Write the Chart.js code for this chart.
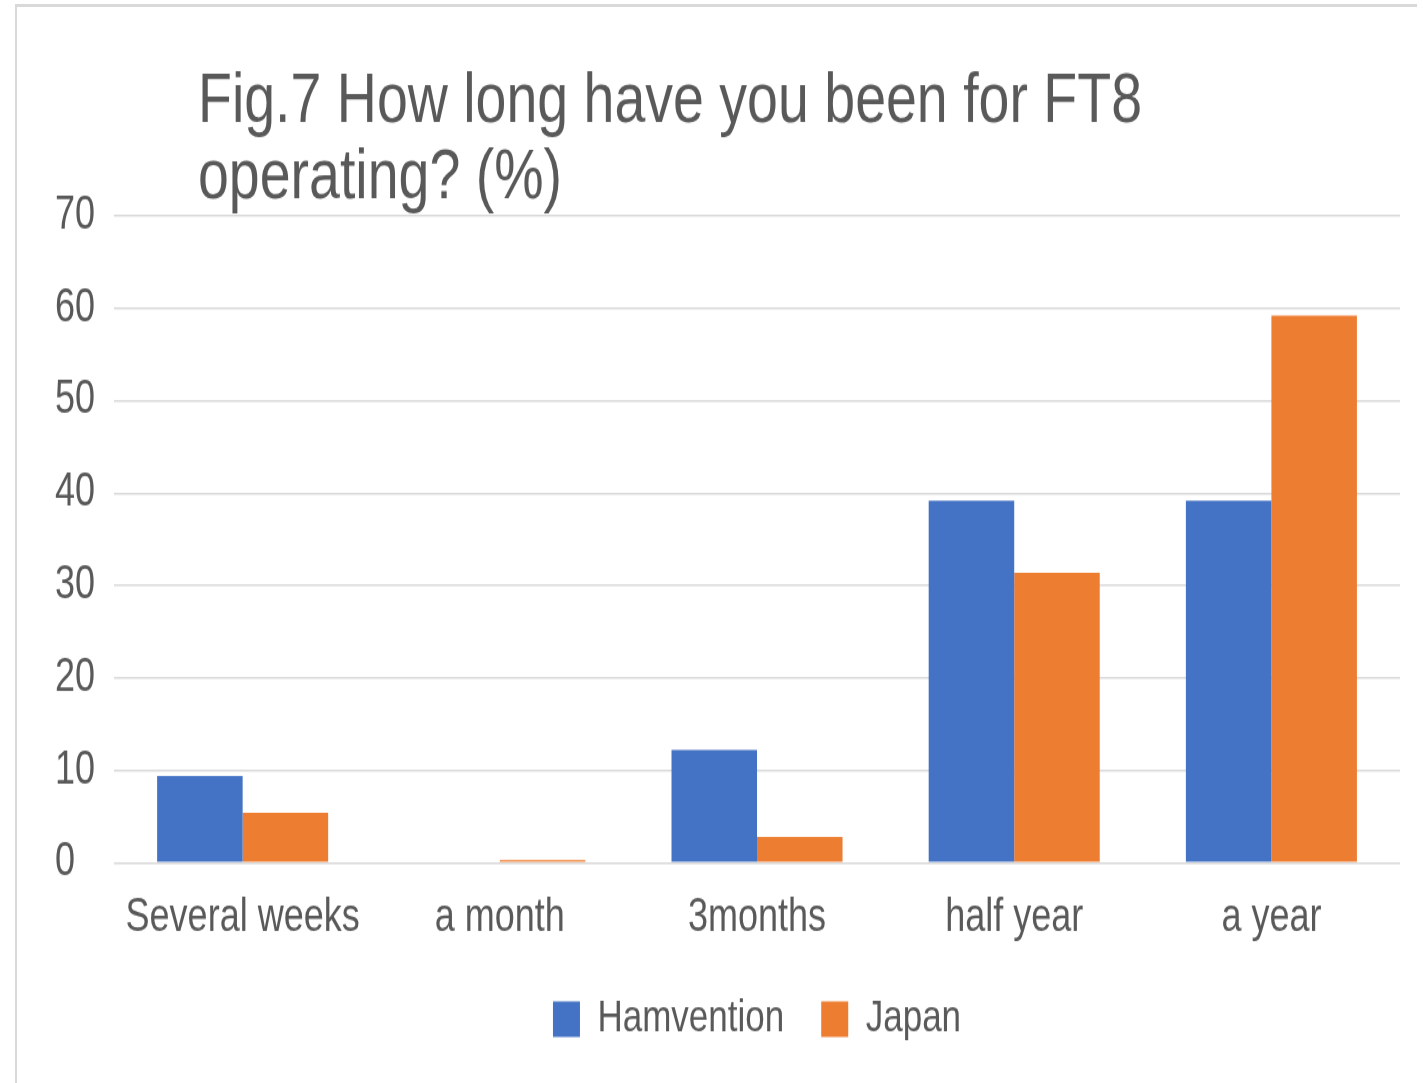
<!DOCTYPE html>
<html>
<head>
<meta charset="utf-8">
<script src="https://cdn.jsdelivr.net/npm/chart.js@4.4.1/dist/chart.umd.min.js"></script>
<style>
  html, body { margin: 0; padding: 0; background: #fff; overflow: hidden; }
  #frame { position: absolute; left: 15px; top: 4px; width: 1400px; height: 1100px;
           border-left: 2px solid #d9d9d9; border-top: 3px solid #d9d9d9; }
  #wrap { position: absolute; left: 0; top: 0; width: 1423px; height: 853px;
          transform: scaleY(1.27); transform-origin: 0 0; }
</style>
</head>
<body>
<div id="frame"></div>
<div id="wrap"><canvas id="chart" width="1423" height="853"></canvas></div>
<script>
// data
const categories = ['Several weeks', 'a month', '3months', 'half year', 'a year'];
const hamvention = [9.4, 0, 12.2, 39.2, 39.2];
const japan = [5.4, 0.3, 2.8, 31.4, 59.2];
const titleLines = ['Fig.7 How long have you been for FT8', 'operating? (%)'];

const grey = '#595959';
const fontFamily = '"Liberation Sans", Arial, sans-serif';

// title sits left of centre, so draw it by hand
const leftTitle = {
  id: 'leftTitle',
  afterDraw(chart) {
    const ctx = chart.ctx;
    ctx.save();
    ctx.font = '55.5px ' + fontFamily;
    ctx.fillStyle = grey;
    ctx.textBaseline = 'alphabetic';
    titleLines.forEach((t, i) => ctx.fillText(t, 198, 96 + i * 60));
    ctx.restore();
  }
};

const ctx = document.getElementById('chart').getContext('2d');
new Chart(ctx, {
  type: 'bar',
  data: {
    labels: categories,
    datasets: [
      { label: 'Hamvention', data: hamvention, backgroundColor: '#4472C4' },
      { label: 'Japan', data: japan, backgroundColor: '#ED7D31' }
    ]
  },
  options: {
    responsive: false,
    animation: false,
    devicePixelRatio: 1,
    layout: { padding: { left: 55, right: 23, top: 170, bottom: 23 } },
    datasets: {
      bar: { categoryPercentage: 0.665, barPercentage: 1, borderWidth: 0 }
    },
    scales: {
      x: {
        grid: { display: false, drawTicks: false },
        border: { display: false },
        ticks: { color: grey, padding: 22, font: { family: fontFamily, size: 36 } },
        afterFit: (scale) => { scale.height -= 18.6; }
      },
      y: {
        min: 0,
        max: 70,
        border: { display: false },
        grid: { color: '#d9d9d9', lineWidth: 1.6, drawTicks: false },
        ticks: {
          stepSize: 10,
          color: grey,
          padding: 9.5,
          crossAlign: 'far',
          font: { family: fontFamily, size: 36 }
        }
      }
    },
    plugins: {
      title: { display: false },
      tooltip: { enabled: false },
      legend: {
        position: 'bottom',
        fullSize: false,
        labels: {
          boxWidth: 27,
          boxHeight: 28,
          padding: 37,
          color: grey,
          font: { family: fontFamily, size: 35 }
        }
      }
    }
  },
  plugins: [leftTitle]
});
</script>
</body>
</html>
